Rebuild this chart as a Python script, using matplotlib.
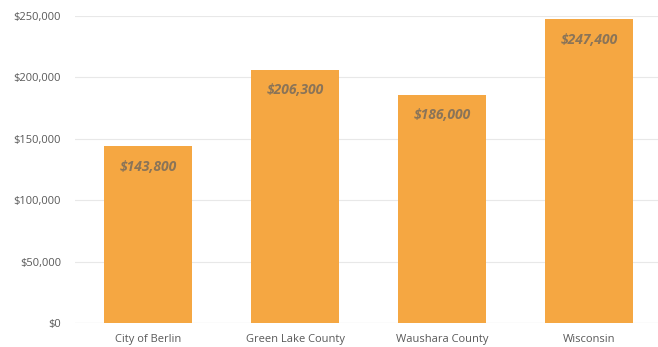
import matplotlib
matplotlib.use("Agg")
import matplotlib.pyplot as plt
from matplotlib.ticker import FuncFormatter

categories = ["City of Berlin", "Green Lake County", "Waushara County", "Wisconsin"]
values = [143800, 206300, 186000, 247400]
yticks = [0, 50000, 100000, 150000, 200000, 250000]

plt.rcParams['font.family'] = ['Open Sans', 'DejaVu Sans']

fig = plt.figure(figsize=(6.58, 3.47), dpi=100)
ax = fig.add_axes([75/658, 24/347, 583/658, 307/347])

x = list(range(len(categories)))
bars = ax.bar(x, values, width=0.6, color="#F5A742", zorder=3)

for xi, v in zip(x, values):
    ax.annotate(f"${v:,.0f}", xy=(xi, v), xytext=(0, -15), textcoords="offset points",
                ha="center", va="center", fontsize=10, fontstyle="italic",
                fontweight="bold", color="#8A7458", zorder=4)

ax.set_ylim(0, 250000)
ax.set_xlim(-0.5, 3.47)
ax.set_yticks(yticks)
ax.yaxis.set_major_formatter(FuncFormatter(lambda v, p: f"${v:,.0f}"))
ax.set_xticks(x)
ax.set_xticklabels(categories)
ax.tick_params(axis="both", length=0, labelsize=8, colors="#595959")
ax.tick_params(axis="y", pad=10)
ax.tick_params(axis="x", pad=8)
ax.grid(axis="y", color="#E8E8E8", linewidth=0.8, zorder=0)
for s in ax.spines.values():
    s.set_visible(False)
ax.axhline(0, color="#E0E0E0", linewidth=0.8, zorder=2)

fig.savefig("out.png", dpi=100)
